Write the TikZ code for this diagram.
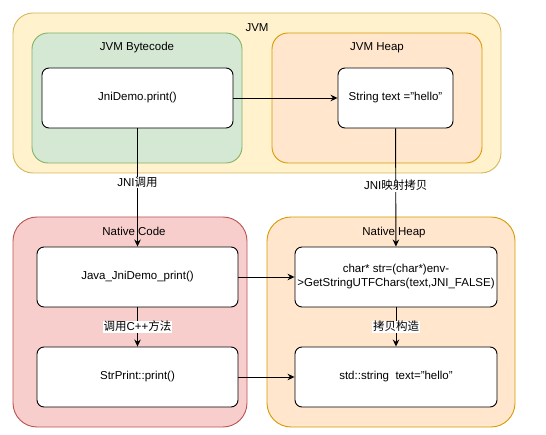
\documentclass[tikz,border=0pt]{standalone}
\usepackage{fontspec}
\setmainfont{Liberation Sans}
\newfontfamily\cjk{Noto Sans CJK SC}
\usetikzlibrary{
  positioning,
  arrows.meta
  }
\definecolor{jvmfill}{HTML}{FFF2CC}
\definecolor{jvmline}{HTML}{D6B656}
\definecolor{codefill}{HTML}{D5E8D4}
\definecolor{codeline}{HTML}{82B366}
\definecolor{heapfill}{HTML}{FFE6CC}
\definecolor{heapline}{HTML}{D79B00}
\definecolor{nativefill}{HTML}{F8CECC}
\definecolor{nativeline}{HTML}{B85450}
\tikzset{
  >={Stealth[length=7pt,width=6.5pt]},
  wire/.style={line width=0.9pt,->},
  region/.style={draw, line width=0.9pt, rounded corners=#1, inner sep=0pt},
  region/.default=16pt,
  box/.style={draw, fill=white, line width=0.9pt, rounded corners=7pt, minimum height=60pt, align=center, inner sep=0pt},
  title/.style={text height=8.3pt, text depth=0pt, inner sep=0pt},
  lab/.style={fill=white, text height=8.3pt, text depth=1pt, inner sep=1pt},
}

\begin{document}
\begin{tikzpicture}[x=1pt, y=-1pt, font=\fontsize{11.5}{14}\selectfont]
\useasboundingbox (0,0) rectangle (546,435);
% =========================================================
% (A) JVM
% =========================================================
  \node[region=20pt, fill=jvmfill, draw=jvmline, minimum width=488pt, minimum height=160pt] (jvm) at (257,93) {};
  \node[title] at (257,27) {JVM};
  \node[region, fill=codefill, draw=codeline, minimum width=210pt, minimum height=130pt] (bytecode) at (137,98) {};
  \node[title] at (137,46) {JVM Bytecode};
  \node[region, fill=heapfill, draw=heapline, minimum width=210pt, minimum height=130pt] (jvmheap) at (377,98) {};
  \node[title] at (377,46) {JVM Heap};
  \node[box, minimum width=191pt] (demo) at (137.5,98) {JniDemo.print()};
  \node[box, minimum width=115pt] (text) at (395.5,98) {String text ="hello"};
% =========================================================
% (B) Native Code / Native Heap
% =========================================================
  \node[region=24pt, fill=nativefill, draw=nativeline, minimum width=234pt, minimum height=210pt] (ncode) at (130,322) {};
  \node[region=24pt, fill=heapfill, draw=heapline, minimum width=248pt, minimum height=210pt] (nheap) at (391,322) {};
  \node[box, minimum width=201pt] (jprint) at (137.5,277) {Java\_JniDemo\_print()};
  \node[box, minimum width=201pt] (sprint) at (137.5,377) {StrPrint::print()};
  \node[box, minimum width=202pt] (chars) at (396,277) {char* str=(char*)env-\\>GetStringUTFChars(text,JNI\_FALSE)};
  \node[box, minimum width=202pt] (stdstr) at (396,377) {std::string\ \ text="hello"};
% =========================================================
% (C) connectors
% =========================================================
  \draw[wire] (demo) -- (text);
  \draw[wire] (demo) -- (jprint) node[pos=0.46, lab] {JNI{\cjk 调用}};
  \draw[wire] (text) -- (chars) node[pos=0.49, lab] {JNI{\cjk 映射拷贝}};
  \draw[wire] (jprint) -- (sprint) node[midway, lab] {{\cjk 调用}C++{\cjk 方法}};
  \draw[wire] (chars) -- (stdstr) node[midway, lab] {{\cjk 拷贝构造}};
  \draw[wire] (jprint) -- (chars);
  \draw[wire] (sprint) -- (stdstr);
  \node[title] at (134,231) {Native Code};
  \node[title] at (394,231) {Native Heap};
\end{tikzpicture}
\end{document}
